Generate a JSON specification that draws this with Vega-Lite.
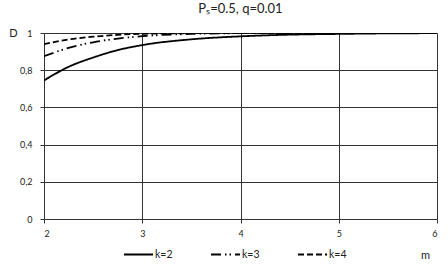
{
  "$schema": "https://vega.github.io/schema/vega-lite/v6.json",
  "autosize": "none",
  "width": 393,
  "height": 186,
  "padding": {"left": 44, "top": 33, "right": 11, "bottom": 54},
  "background": "white",
  "title": {"text": "Pₛ=0.5, q=0.01", "font": "Lato", "fontSize": 13, "fontWeight": "normal", "color": "#222", "offset": 11, "anchor": "middle"},
  "config": {"view": {"stroke": null}},
  "data": {"values": [
    {"m": 2, "D": 0.745, "k": "k=2"},
    {"m": 2.25, "D": 0.818, "k": "k=2"},
    {"m": 2.5, "D": 0.868, "k": "k=2"},
    {"m": 2.75, "D": 0.908, "k": "k=2"},
    {"m": 3, "D": 0.935, "k": "k=2"},
    {"m": 3.5, "D": 0.966, "k": "k=2"},
    {"m": 4, "D": 0.982, "k": "k=2"},
    {"m": 4.5, "D": 0.991, "k": "k=2"},
    {"m": 5, "D": 0.995, "k": "k=2"},
    {"m": 5.5, "D": 0.998, "k": "k=2"},
    {"m": 6, "D": 0.999, "k": "k=2"},
    {"m": 2, "D": 0.875, "k": "k=3"},
    {"m": 2.25, "D": 0.92, "k": "k=3"},
    {"m": 2.5, "D": 0.95, "k": "k=3"},
    {"m": 2.75, "D": 0.97, "k": "k=3"},
    {"m": 3, "D": 0.983, "k": "k=3"},
    {"m": 3.5, "D": 0.995, "k": "k=3"},
    {"m": 4, "D": 0.999, "k": "k=3"},
    {"m": 5, "D": 1.0, "k": "k=3"},
    {"m": 6, "D": 1.0, "k": "k=3"},
    {"m": 2, "D": 0.94, "k": "k=4"},
    {"m": 2.25, "D": 0.965, "k": "k=4"},
    {"m": 2.5, "D": 0.98, "k": "k=4"},
    {"m": 2.75, "D": 0.99, "k": "k=4"},
    {"m": 3, "D": 0.996, "k": "k=4"},
    {"m": 3.5, "D": 0.999, "k": "k=4"},
    {"m": 4, "D": 1.0, "k": "k=4"},
    {"m": 5, "D": 1.0, "k": "k=4"},
    {"m": 6, "D": 1.0, "k": "k=4"}
  ]},
  "mark": {"type": "line", "interpolate": "monotone", "strokeWidth": 1.8, "color": "black", "clip": true},
  "encoding": {
    "x": {"field": "m", "type": "quantitative", "scale": {"domain": [2, 6], "nice": false},
      "axis": {"values": [2, 3, 4, 5, 6], "title": "m", "titleFont": "Lato", "titleFontWeight": "normal", "titleFontSize": 11, "titleColor": "#222",
        "titleAngle": 0, "titleX": 381, "titleY": 36, "titleAlign": "center", "titleBaseline": "middle",
        "labelFont": "Lato", "labelFontSize": 9, "labelColor": "#222", "labelPadding": 6,
        "grid": true, "gridColor": "#333", "gridWidth": 1, "domain": false, "ticks": true, "tickColor": "#333", "tickSize": 4}},
    "y": {"field": "D", "type": "quantitative", "scale": {"domain": [0, 1], "nice": false},
      "axis": {"values": [0, 0.2, 0.4, 0.6, 0.8, 1], "format": "~g", "labelExpr": "replace(datum.label, '.', ',')", "title": "D",
        "titleFont": "Lato", "titleFontWeight": "normal", "titleFontSize": 11, "titleColor": "#222",
        "titleAngle": 0, "titleX": -31, "titleY": 0, "titleAlign": "center", "titleBaseline": "middle",
        "labelFont": "Lato", "labelFontSize": 9, "labelColor": "#222", "labelPadding": 8,
        "grid": true, "gridColor": "#333", "gridWidth": 1, "domain": false, "ticks": true, "tickColor": "#333", "tickSize": 4}},
    "strokeDash": {"field": "k", "type": "nominal",
      "scale": {"domain": ["k=2", "k=3", "k=4"], "range": [[1, 0], [10, 4, 1.5, 3, 1.5, 4], [6, 3]]},
      "legend": {"title": null, "orient": "none", "direction": "horizontal", "legendX": 79, "legendY": 206,
        "symbolType": "stroke", "symbolStrokeColor": "black", "symbolStrokeWidth": 2, "symbolSize": 841,
        "labelFont": "Lato", "labelFontSize": 10.5, "labelColor": "#222", "columnPadding": 34, "labelOffset": 1}}
  }
}
